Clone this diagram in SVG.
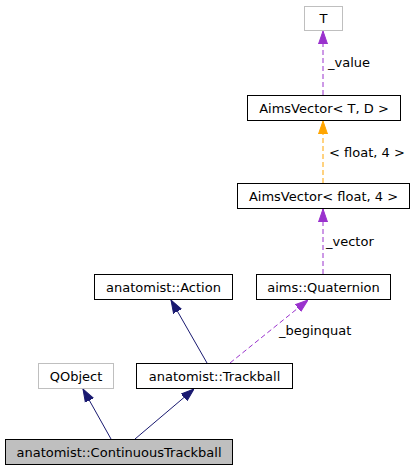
<svg xmlns="http://www.w3.org/2000/svg" width="415" height="471" viewBox="0 0 415 471">
<style>
text{font-family:"DejaVu Sans","Liberation Sans",sans-serif;font-size:13px;fill:#000}
.n rect{fill:#fff;stroke:#000;stroke-width:1}
.g rect{stroke:#bfbfbf}
.e{fill:none;stroke-width:1}
.nav{stroke:#191970}
.pur{stroke:#9a32cd;stroke-dasharray:5,3}
.org{stroke:#ffa500;stroke-dasharray:5,3}
</style>
<defs>
<marker id="aN" markerWidth="13" markerHeight="12" refX="13" refY="6" orient="auto" markerUnits="userSpaceOnUse"><path d="M0,1.5 L13,6 L0,10.5 z" fill="#191970" stroke="#191970"/></marker>
<marker id="aP" markerWidth="13" markerHeight="12" refX="13" refY="6" orient="auto" markerUnits="userSpaceOnUse"><path d="M0,1.5 L13,6 L0,10.5 z" fill="#9a32cd" stroke="#9a32cd"/></marker>
<marker id="aO" markerWidth="13" markerHeight="12" refX="13" refY="6" orient="auto" markerUnits="userSpaceOnUse"><path d="M0,1.5 L13,6 L0,10.5 z" fill="#ffa500" stroke="#ffa500"/></marker>
</defs>
<g id="connectors">
<path class="e pur" d="M323,95 L323,31" marker-end="url(#aP)"/>
<text x="328" y="67">_value</text>
<path class="e org" d="M323,183 L323,121" marker-end="url(#aO)"/>
<text x="329" y="157">&lt; float, 4 &gt;</text>
<path class="e pur" d="M323,274 L323,209" marker-end="url(#aP)"/>
<text x="326" y="246">_vector</text>
<path class="e nav" d="M207,363 L171,300" marker-end="url(#aN)"/>
<path class="e pur" d="M230,363 L308,300" marker-end="url(#aP)"/>
<text x="279" y="335">_beginquat</text>
<path class="e nav" d="M111,439 L83,389" marker-end="url(#aN)"/>
<path class="e nav" d="M135,439 L194,389" marker-end="url(#aN)"/>
</g>
<g id="node-T" class="n g"><rect x="304.5" y="6.5" width="38" height="24"/><text x="323.5" y="23" text-anchor="middle">T</text></g>
<g id="node-AimsVectorTD" class="n"><rect x="247.5" y="95.5" width="153" height="25"/><text x="324" y="112.5" text-anchor="middle">AimsVector&lt; T, D &gt;</text></g>
<g id="node-AimsVectorFloat4" class="n"><rect x="237.5" y="183.5" width="172" height="25"/><text x="323.5" y="200.5" text-anchor="middle">AimsVector&lt; float, 4 &gt;</text></g>
<g id="node-Quaternion" class="n"><rect x="256.5" y="274.5" width="134" height="25"/><text x="323.5" y="291.5" text-anchor="middle">aims::Quaternion</text></g>
<g id="node-Action" class="n"><rect x="94.5" y="274.5" width="138" height="25"/><text x="163.5" y="291.5" text-anchor="middle">anatomist::Action</text></g>
<g id="node-QObject" class="n g"><rect x="38.5" y="363.5" width="75" height="25"/><text x="76" y="380.5" text-anchor="middle">QObject</text></g>
<g id="node-Trackball" class="n"><rect x="136.5" y="363.5" width="156" height="25"/><text x="214.5" y="380.5" text-anchor="middle">anatomist::Trackball</text></g>
<g id="node-ContinuousTrackball" class="n"><rect x="5.5" y="439.5" width="227" height="25" style="fill:#bfbfbf"/><text x="119" y="456.5" text-anchor="middle">anatomist::ContinuousTrackball</text></g>
</svg>
